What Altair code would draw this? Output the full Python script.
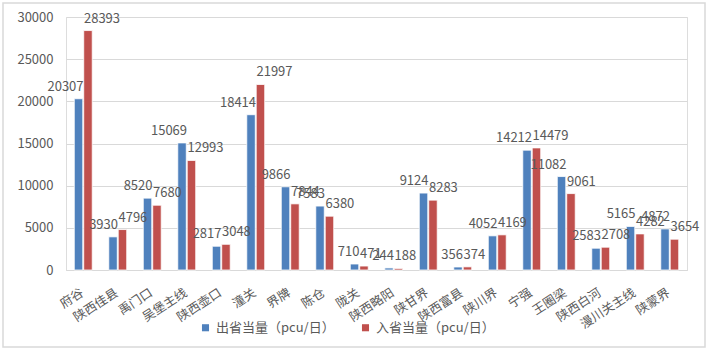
import altair as alt
import pandas as pd

categories = ["府谷", "陕西佳县", "禹门口", "吴堡主线", "陕西壶口", "潼关", "界牌", "陈仓", "陇关",
              "陕西略阳", "陕甘界", "陕西富县", "陕川界", "宁强", "王圈梁", "陕西白河", "漫川关主线", "陕蒙界"]
out_vals = [20307, 3930, 8520, 15069, 2817, 18414, 9866, 7583, 710, 244, 9124, 356, 4052, 14212, 11082, 2583, 5165, 4872]
in_vals = [28393, 4796, 7680, 12993, 3048, 21997, 7844, 6380, 471, 188, 8283, 374, 4169, 14479, 9061, 2708, 4282, 3654]
series = ["出省当量（pcu/日）", "入省当量（pcu/日）"]
colors = ["#4F81BD", "#C0504D"]

rows = []
for c, o, i in zip(categories, out_vals, in_vals):
    rows.append({"cat": c, "series": series[0], "val": o})
    rows.append({"cat": c, "series": series[1], "val": i})
df = pd.DataFrame(rows)

FONT = "Noto Sans CJK SC"
GRAY = "#595959"
W, H = 621, 253

x = alt.X("cat:N", sort=categories, title=None,
          scale=alt.Scale(paddingInner=0.48, paddingOuter=0.24),
          axis=alt.Axis(labelAngle=-33, labelAlign="right", labelBaseline="middle",
                        labelFont=FONT, labelFontSize=12.5, labelColor=GRAY,
                        ticks=False, domainColor="#d9d9d9", labelPadding=21, labelOffset=-1))
xo = alt.XOffset("series:N", sort=series, scale=alt.Scale(paddingInner=0.1))

base = alt.Chart(df)

border = alt.Chart(pd.DataFrame({"a": [0]})).mark_rect(
    fill=None, stroke="#d9d9d9", strokeWidth=1.5).encode(
    x=alt.value(-63), x2=alt.value(639), y=alt.value(-14), y2=alt.value(330))

bars = base.mark_bar(stroke="white", strokeWidth=0.8).encode(
    x=x, xOffset=xo,
    y=alt.Y("val:Q", title=None,
            scale=alt.Scale(domain=[0, 30000], nice=False),
            axis=alt.Axis(values=[0, 5000, 10000, 15000, 20000, 25000, 30000], format="d",
                          labelFont=FONT, labelFontSize=13, labelColor=GRAY,
                          domain=False, ticks=False, gridColor="#d9d9d9", labelPadding=13)),
    color=alt.Color("series:N", sort=series,
                    scale=alt.Scale(domain=series, range=colors),
                    legend=alt.Legend(title=None, orient="none", direction="horizontal",
                                      legendX=133, legendY=304, symbolType="square",
                                      symbolSize=50, labelFont=FONT, labelFontSize=13,
                                      labelColor=GRAY, columnPadding=24, symbolStrokeWidth=0)),
)

def labels(s, align, dx):
    return base.transform_filter(alt.datum.series == s).mark_text(
        font=FONT, fontSize=13, color=GRAY, baseline="bottom", align=align, dy=-5, dx=dx).encode(
        x=x, xOffset=xo, y="val:Q", text="val:Q")

chart = alt.layer(border, bars, labels(series[0], "right", 5), labels(series[1], "left", -4)).properties(
    width=W, height=H,
    autosize=alt.AutoSizeParams(type="none"),
    padding={"left": 66, "top": 17, "right": 22, "bottom": 83},
).configure_view(stroke=None).configure(background="white")

chart.save("out.html", embed_options={"renderer": "svg", "actions": False})
